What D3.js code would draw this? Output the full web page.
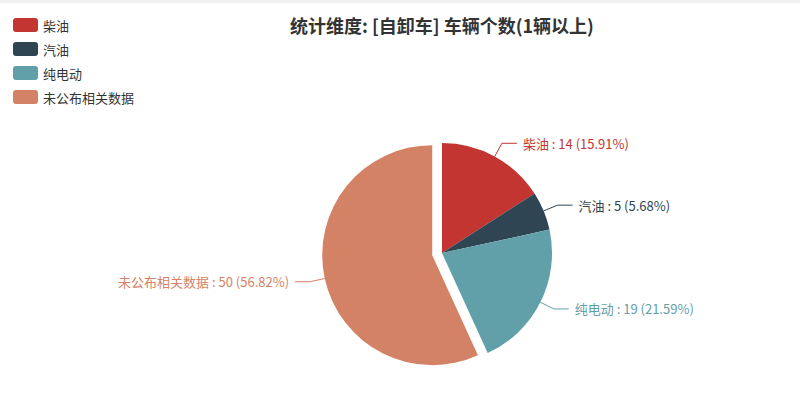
<!DOCTYPE html>
<html>
<head>
<meta charset="utf-8">
<style>
  body { margin: 0; background: #fff; }
  svg { display: block; font-family: "Noto Sans CJK SC", "Noto Sans", sans-serif; }
</style>
</head>
<body>
<svg width="800" height="400"></svg>
<script src="https://d3js.org/d3.v7.min.js"></script>
<script>
// chart data
var categories = ["柴油", "汽油", "纯电动", "未公布相关数据"];
var counts = [14, 5, 19, 50];
var selected = [false, false, false, true];
var colors = ["#c23531", "#2f4554", "#61a0a8", "#d48265"];
var title = "统计维度: [自卸车] 车辆个数(1辆以上)";

var svg = d3.select("svg"),
    width = +svg.attr("width"),
    height = +svg.attr("height");

var cx = 442, cy = 253, radius = 110,
    explode = 10, len1 = 15, len2 = 15;

var total = d3.sum(counts);
var pctFormat = function(v) { return (v / total * 100).toFixed(2); };

// thin grey strip along the top edge
svg.append("rect")
    .attr("x", 0).attr("y", 0)
    .attr("width", width).attr("height", 3)
    .attr("fill", "#f0f0f0");

svg.append("text")
    .attr("x", cx)
    .attr("y", 25)
    .attr("text-anchor", "middle")
    .attr("dominant-baseline", "central")
    .attr("font-size", 18)
    .attr("font-weight", "bold")
    .attr("fill", "#333")
    .text(title);

var color = d3.scaleOrdinal().domain(categories).range(colors);

var rows = categories.map(function(c, i) {
  return {name: c, value: counts[i], selected: selected[i]};
});

var pie = d3.pie()
    .sort(null)
    .value(function(d) { return d.value; });

var arc = d3.arc().innerRadius(0).outerRadius(radius);

var arcs = pie(rows);

var slice = svg.append("g")
    .attr("transform", "translate(" + cx + "," + cy + ")")
    .selectAll("g")
    .data(arcs)
    .enter().append("g")
      .attr("transform", function(d) {
        if (!d.data.selected) return null;
        var a = (d.startAngle + d.endAngle) / 2;
        return "translate(" + (explode * Math.sin(a)) + "," + (-explode * Math.cos(a)) + ")";
      });

slice.append("path")
    .attr("d", arc)
    .attr("fill", function(d) { return color(d.data.name); });

slice.each(function(d) {
  var g = d3.select(this);
  var a = (d.startAngle + d.endAngle) / 2;
  var sx = Math.sin(a), sy = -Math.cos(a);
  var right = sx >= 0;
  var p1 = [radius * sx, radius * sy],
      p2 = [(radius + len1) * sx, (radius + len1) * sy],
      p3 = [p2[0] + (right ? len2 : -len2), p2[1]];
  g.append("polyline")
      .attr("points", [p1, p2, p3].map(function(p) { return p.join(","); }).join(" "))
      .attr("fill", "none")
      .attr("stroke", color(d.data.name))
      .attr("stroke-width", 1);
  g.append("text")
      .attr("x", p3[0] + (right ? 6 : -6))
      .attr("y", p3[1])
      .attr("text-anchor", right ? "start" : "end")
      .attr("dominant-baseline", "central")
      .attr("font-size", 13)
      .attr("fill", color(d.data.name))
      .text(d.data.name + " : " + d.data.value + " (" + pctFormat(d.data.value) + "%)");
});

// legend
var legend = svg.append("g")
    .selectAll("g")
    .data(categories)
    .enter().append("g")
      .attr("transform", function(d, i) { return "translate(13," + (18 + i * 24) + ")"; });

legend.append("rect")
    .attr("width", 25)
    .attr("height", 14)
    .attr("rx", 3)
    .attr("fill", function(d) { return color(d); });

legend.append("text")
    .attr("x", 30)
    .attr("y", 7)
    .attr("dominant-baseline", "central")
    .attr("font-size", 13)
    .attr("fill", "#333")
    .text(function(d) { return d; });
</script>
</body>
</html>
